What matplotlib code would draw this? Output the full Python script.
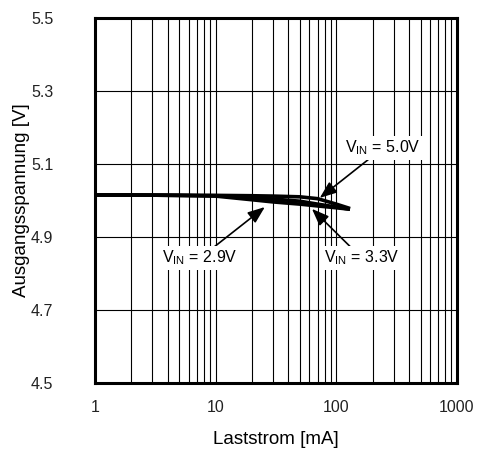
import matplotlib
matplotlib.use("Agg")
import matplotlib.pyplot as plt
from matplotlib.ticker import FixedLocator, NullFormatter

plt.rcParams['font.family'] = ['Liberation Sans', 'DejaVu Sans']
plt.rcParams['mathtext.default'] = 'regular'

# Data
load_ma = [1, 2, 5, 10, 20, 30, 50, 70, 100, 130]
v_50 = [5.015, 5.015, 5.014, 5.014, 5.013, 5.012, 5.010, 5.005, 4.990, 4.978]
v_33 = [5.015, 5.015, 5.014, 5.013, 5.008, 5.004, 4.998, 4.990, 4.982, 4.976]
v_29 = [5.015, 5.015, 5.014, 5.012, 5.002, 4.996, 4.990, 4.985, 4.980, 4.976]

x_ticks = [1, 10, 100, 1000]
x_tick_labels = ["1", "10", "100", "1000"]
y_ticks = [4.5, 4.7, 4.9, 5.1, 5.3, 5.5]
y_tick_labels = ["4.5", "4.7", "4.9", "5.1", "5.3", "5.5"]

labels = ["V$_{IN}$ = 5.0V", "V$_{IN}$ = 3.3V", "V$_{IN}$ = 2.9V"]
label_pos = [(244, 5.144), (163, 4.842), (7.42, 4.842)]
arrow_tip = [(73, 5.007), (62.9, 4.977), (25.6, 4.982)]

fig = plt.figure(figsize=(4.79, 4.5), dpi=100)
ax = fig.add_axes([0.198, 0.149, 0.756, 0.811])

for v in (v_29, v_33, v_50):
    ax.plot(load_ma, v, color='black', lw=2.6, solid_capstyle='butt', zorder=3)

ax.set_xscale('log')
ax.set_xlim(1, 1000)
ax.set_ylim(4.5, 5.5)

ax.xaxis.set_major_locator(FixedLocator(x_ticks))
ax.set_xticklabels(x_tick_labels)
minor = [m * d for d in (1, 10, 100) for m in range(2, 10)]
ax.xaxis.set_minor_locator(FixedLocator(minor))
ax.xaxis.set_minor_formatter(NullFormatter())
ax.yaxis.set_major_locator(FixedLocator(y_ticks))
ax.set_yticklabels(y_tick_labels)

ax.grid(True, which='major', axis='both', color='black', lw=0.8)
ax.grid(True, which='minor', axis='x', color='black', lw=0.8)
ax.tick_params(which='both', length=0)
ax.tick_params(axis='y', pad=30, labelsize=11.5, colors='#222222')
ax.tick_params(axis='x', pad=12, labelsize=11.5, colors='#222222')
ax.set_axisbelow(True)

for s in ax.spines.values():
    s.set_linewidth(2.2)
    s.set_color('black')

ax.set_xlabel("Laststrom [mA]", fontsize=13.5, labelpad=12)
ax.set_ylabel("Ausgangsspannung [V]", fontsize=13.5)
ax.yaxis.set_label_coords(-0.18, 0.5)

for txt, pos, tip in zip(labels, label_pos, arrow_tip):
    ax.annotate(txt, xy=tip, xytext=pos, ha='center', va='center', fontsize=11.5,
                bbox=dict(boxstyle='square,pad=0.15', fc='white', ec='none'),
                arrowprops=dict(arrowstyle='-|>,head_length=0.9,head_width=0.35',
                                color='black', lw=1.2, shrinkA=0, shrinkB=0),
                zorder=5)

fig.savefig("out.png", dpi=100)
